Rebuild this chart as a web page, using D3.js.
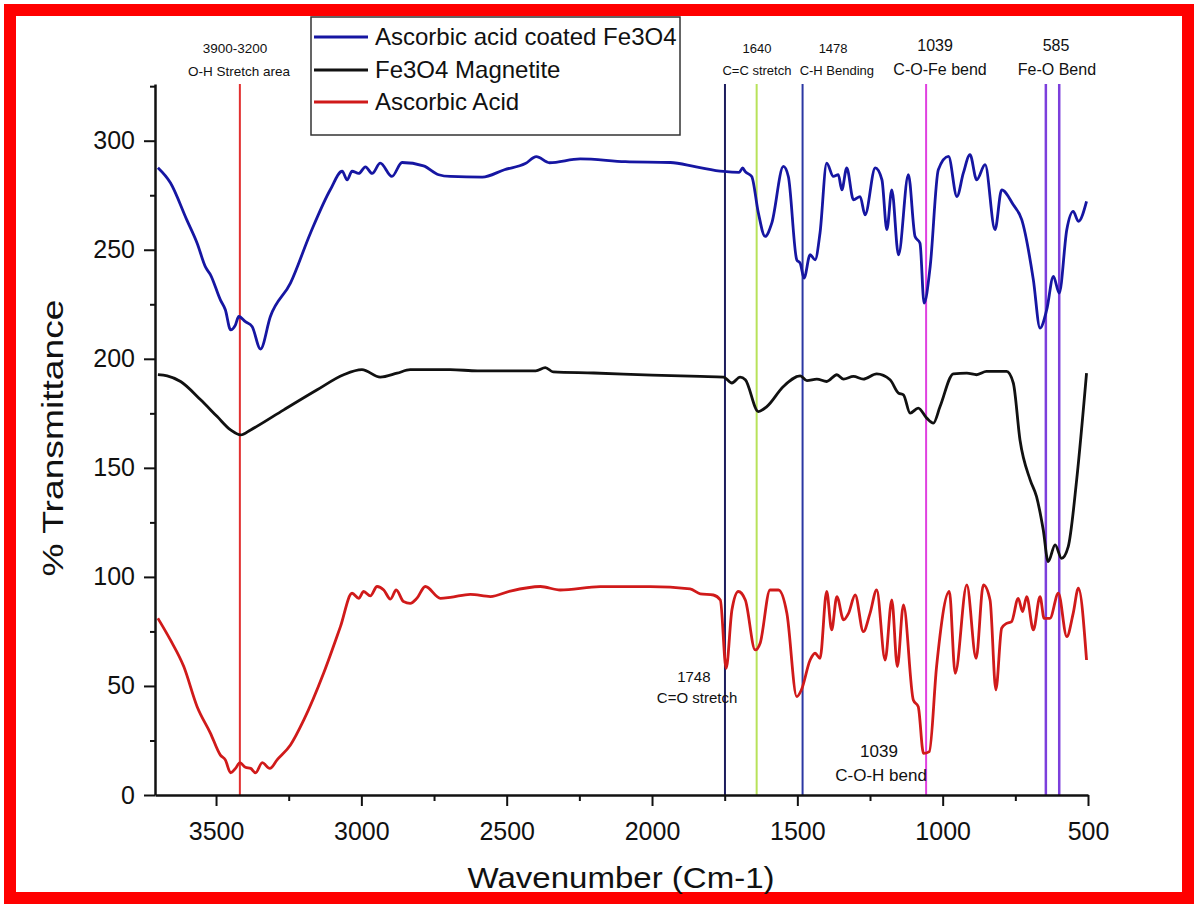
<!DOCTYPE html>
<html>
<head>
<meta charset="utf-8">
<title>FTIR spectra</title>
<script src="https://d3js.org/d3.v7.min.js"></script>
<style>
  body { margin: 0; background: #fff; }
  text { font-family: "Liberation Sans", Arial, Helvetica, sans-serif; fill: #111; }
</style>
</head>
<body>
<svg id="chart" width="1198" height="908"></svg>
<script>
// wavenumber (cm-1) and % transmittance
const coatedWN = [3700,3657,3601,3565,3536,3519,3485,3468,3450,3433,3422,3399,3376,3347,3313,3244,3175,3107,3066,3049,3032,3009,2986,2963,2935,2895,2860,2786,2734,2694,2584,2508,2436,2398,2353,2247,2092,1937,1848,1754,1700,1688,1680,1657,1634,1611,1588,1548,1531,1502,1490,1477,1456,1439,1422,1399,1376,1359,1347,1330,1307,1284,1267,1232,1209,1192,1175,1152,1118,1095,1078,1064,1043,1015,980,951,929,906,883,854,820,797,757,728,688,665,642,619,599,573,551,533,505];
const coatedT = [287.6,280.7,263.8,253,242,238.5,227,222.5,213.3,215.6,219.4,217,214.8,204.5,219.4,234.7,257.7,277.5,286,282,286,285,288,285,289.7,283.6,290,288.5,284.4,283.6,283.3,286.7,289.5,292.7,289.9,291.7,290.4,290,288,285.9,285.5,287.5,285.9,283.6,266.8,256.1,262.2,288.2,283.6,245.4,243.8,237,247.7,245.4,257.7,289.7,283.6,284.4,277.5,287.5,272.9,274.4,266,287.5,282.1,259.2,277.5,247.7,284.4,256.1,253,225.5,242.3,286.7,292.8,274.4,285.1,293.6,282.1,289,259.2,277.5,270.6,263.8,236.2,214.1,222.5,237.8,230.1,259.2,267.6,263,272.2];

const magnetiteWN = [3700,3668,3622,3553,3496,3450,3415,3381,3267,3152,3061,2998,2935,2877,2832,2694,2600,2400,2367,2340,2200,2000,1834,1754,1725,1697,1679,1634,1605,1548,1490,1467,1433,1399,1364,1341,1307,1273,1227,1181,1152,1135,1112,1084,1055,1032,1009,963,917,883,849,780,757,734,699,677,654,637,613,591,568,539,505];
const magnetiteT = [192.7,192.2,189.6,181.2,173.5,167.4,165.1,167.4,176.6,185.8,192.7,195,191.6,193.4,195,195,194.5,194.5,196,194,193.5,192.5,191.9,191.6,188.9,191.6,190.4,175.8,178.1,187.3,192.2,190,190.7,189.6,192.7,190.7,191.9,190.7,193.1,190.4,184.3,183.5,175.1,177.4,172.8,170.5,178.1,193.1,193.4,192.7,194.2,194.2,188.9,162.8,144.5,136.8,121.6,107,114.7,108.5,113.9,144.5,193.4];

const acidWN = [3700,3657,3611,3565,3519,3485,3468,3450,3433,3418,3399,3381,3364,3341,3315,3290,3244,3198,3130,3072,3032,3009,2992,2969,2946,2923,2900,2880,2855,2832,2809,2780,2728,2694,2625,2556,2488,2384,2316,2178,2006,1869,1834,1789,1765,1745,1725,1703,1679,1645,1628,1594,1565,1536,1502,1486,1456,1439,1422,1399,1382,1364,1341,1324,1301,1273,1250,1227,1198,1175,1156,1135,1101,1084,1066,1046,1021,977,957,917,885,860,837,817,797,780,763,740,725,711,688,665,651,631,602,573,551,533,505];
const acidT = [81,71.1,58.9,40.5,28.3,18.3,16.1,10.2,12.2,14.8,12.7,12.2,10.2,14.8,12.2,16.1,22.9,34.4,55.8,77.2,92.5,90.2,93.3,91.3,95.6,94,89.8,94,88.7,87.9,90.2,95.6,90.2,90.6,92,91,93.5,95.6,94,95.5,95.5,94.5,92.2,91.7,89.4,58.1,84.9,93.3,89.4,66.5,69.6,94,94,83.3,45.1,48.2,61.9,65,62.7,93.3,75.7,91,80.3,83.3,91.7,74.9,83.3,94,61.9,89.4,58.9,87.2,43.6,40.5,19.1,19.9,58.9,93.3,55.8,96.3,62.7,96.3,89.4,48.2,76.5,78.7,79.5,90.2,84.1,91,75.7,91,81,81,92.5,72.6,83.3,94.8,61.9];

const seriesNames = ["Ascorbic acid coated Fe3O4", "Fe3O4 Magnetite", "Ascorbic Acid"];
const seriesColors = ["#1616a2", "#111111", "#d01a1a"];

// marker lines (wavenumber)
const markerWN = [3418, 1749, 1640, 1482, 1057, 645, 599];
const markerColors = ["#e23030", "#1d1d5e", "#b8e25a", "#2b37a3", "#e040e0", "#7c3fdc", "#7c3fdc"];

const xMajor = [3500, 3000, 2500, 2000, 1500, 1000, 500];
const xMinor = [3250, 2750, 2250, 1750, 1250, 750];
const yMajor = [0, 50, 100, 150, 200, 250, 300];
const yMinor = [25, 75, 125, 175, 225, 275, 325];

const svg = d3.select("#chart");

svg.append("rect").attr("width", 1198).attr("height", 908).attr("fill", "#fff");
svg.append("rect")
  .attr("x", 10).attr("y", 10).attr("width", 1178).attr("height", 888)
  .attr("fill", "none").attr("stroke", "#ff0000").attr("stroke-width", 12);

const x = d3.scaleLinear().domain([3710, 500]).range([155, 1088]);
const y = d3.scaleLinear().domain([0, 326]).range([795, 84]);

// marker lines
svg.append("g").selectAll("line")
  .data(markerWN)
  .join("line")
    .attr("x1", d => x(d)).attr("x2", d => x(d))
    .attr("y1", y(326)).attr("y2", y(0))
    .attr("stroke", (d, i) => markerColors[i])
    .attr("stroke-width", (d, i) => i >= 5 ? 2.5 : 2);

// spectra
const line = d3.line()
  .x(d => x(d[0]))
  .y(d => y(d[1]))
  .curve(d3.curveMonotoneX);

const series = [
  d3.zip(coatedWN, coatedT),
  d3.zip(magnetiteWN, magnetiteT),
  d3.zip(acidWN, acidT)
];

svg.append("g").selectAll("path")
  .data(series)
  .join("path")
    .attr("d", line)
    .attr("fill", "none")
    .attr("stroke", (d, i) => seriesColors[i])
    .attr("stroke-width", 2.8)
    .attr("stroke-linejoin", "round");

// axes
function styleAxis(g) {
  g.select(".domain").attr("stroke", "#111").attr("stroke-width", 2.5);
  g.selectAll(".tick line").attr("stroke", "#111").attr("stroke-width", 2);
  g.selectAll(".tick text")
    .attr("font-family", '"Liberation Sans", Arial, sans-serif')
    .attr("font-size", 25).attr("fill", "#111");
}

svg.append("g")
  .attr("transform", "translate(0," + y(0) + ")")
  .call(d3.axisBottom(x).tickValues(xMajor).tickFormat(d3.format("d")).tickSize(11).tickSizeOuter(0).tickPadding(16))
  .call(styleAxis);
svg.append("g")
  .attr("transform", "translate(0," + y(0) + ")")
  .call(d3.axisBottom(x).tickValues(xMinor).tickFormat("").tickSize(6).tickSizeOuter(0))
  .call(g => g.select(".domain").remove())
  .call(styleAxis);

svg.append("g")
  .attr("transform", "translate(" + x(3710) + ",0)")
  .call(d3.axisLeft(y).tickValues(yMajor).tickSize(11).tickSizeOuter(0).tickPadding(9))
  .call(styleAxis);
svg.append("g")
  .attr("transform", "translate(" + x(3710) + ",0)")
  .call(d3.axisLeft(y).tickValues(yMinor).tickFormat("").tickSize(5).tickSizeOuter(0))
  .call(g => g.select(".domain").remove())
  .call(styleAxis);

// axis titles
svg.append("text")
  .attr("x", 621).attr("y", 888)
  .attr("text-anchor", "middle")
  .attr("font-size", 30)
  .attr("textLength", 307).attr("lengthAdjust", "spacingAndGlyphs")
  .text("Wavenumber (Cm-1)");

svg.append("text")
  .attr("transform", "translate(63,438) rotate(-90)")
  .attr("text-anchor", "middle")
  .attr("font-size", 30)
  .attr("textLength", 277).attr("lengthAdjust", "spacingAndGlyphs")
  .text("% Transmittance");

// peak annotations (x given as wavenumber of the label centre)
const notes = [
  { x: 3435, y: 53, size: 13.5, t: "3900-3200" },
  { x: 3421, y: 76, size: 13.5, t: "O-H Stretch area" },
  { x: 1639, y: 53, size: 13, t: "1640" },
  { x: 1639, y: 75, size: 13, t: "C=C stretch" },
  { x: 1377, y: 53, size: 13, t: "1478" },
  { x: 1364, y: 75, size: 13, t: "C-H Bending" },
  { x: 1026, y: 51, size: 16, t: "1039" },
  { x: 1009, y: 75, size: 16, t: "C-O-Fe bend" },
  { x: 610, y: 51, size: 16, t: "585" },
  { x: 607, y: 75, size: 16, t: "Fe-O Bend" },
  { x: 1856, y: 682, size: 15, t: "1748" },
  { x: 1845, y: 703, size: 15, t: "C=O stretch" },
  { x: 1219, y: 757, size: 17, t: "1039" },
  { x: 1212, y: 781, size: 17, t: "C-O-H bend" }
];

svg.append("g").selectAll("text")
  .data(notes)
  .join("text")
    .attr("x", d => x(d.x))
    .attr("y", d => d.y)
    .attr("text-anchor", "middle")
    .attr("font-size", d => d.size)
    .text(d => d.t);

// legend
const legend = svg.append("g");
legend.append("rect")
  .attr("x", 311).attr("y", 17).attr("width", 369).attr("height", 118)
  .attr("fill", "#fff").attr("stroke", "#333").attr("stroke-width", 1.5);

const legendRows = legend.selectAll("g")
  .data(seriesNames)
  .join("g")
    .attr("transform", (d, i) => "translate(0," + [37, 70, 102][i] + ")");

legendRows.append("line")
  .attr("x1", 314).attr("x2", 368)
  .attr("stroke", (d, i) => seriesColors[i])
  .attr("stroke-width", 3);

legendRows.append("text")
  .attr("x", 375).attr("dy", "0.35em")
  .attr("font-size", 24)
  .text(d => d);
</script>
</body>
</html>
